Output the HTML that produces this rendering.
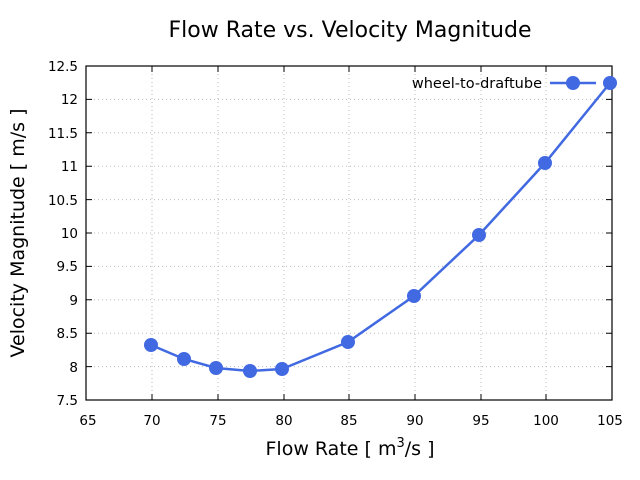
<!DOCTYPE html>
<html><head><style>body{margin:0;background:#fff}svg{display:block}</style></head><body>
<svg width="640" height="480" xmlns="http://www.w3.org/2000/svg" font-family="'DejaVu Sans','Liberation Sans',sans-serif">
<rect width="640" height="480" fill="#fff"/>
<g stroke="#bbb" stroke-width="1" stroke-dasharray="1,3">
<line x1="152" y1="66" x2="152" y2="400"/><line x1="218" y1="66" x2="218" y2="400"/><line x1="284" y1="66" x2="284" y2="400"/><line x1="349" y1="66" x2="349" y2="400"/><line x1="415" y1="66" x2="415" y2="400"/><line x1="481" y1="66" x2="481" y2="400"/><line x1="546" y1="66" x2="546" y2="400"/>
<line x1="86" y1="99.4" x2="612" y2="99.4"/><line x1="86" y1="132.8" x2="612" y2="132.8"/><line x1="86" y1="166.2" x2="612" y2="166.2"/><line x1="86" y1="199.6" x2="612" y2="199.6"/><line x1="86" y1="233" x2="612" y2="233"/><line x1="86" y1="266.4" x2="612" y2="266.4"/><line x1="86" y1="299.8" x2="612" y2="299.8"/><line x1="86" y1="333.2" x2="612" y2="333.2"/><line x1="86" y1="366.6" x2="612" y2="366.6"/>
</g>
<rect x="86" y="66" width="526" height="334" fill="none" stroke="#000" stroke-width="1.2"/>
<g stroke="#000" stroke-width="1">
<path d="M152 400v-6M218 400v-6M284 400v-6M349 400v-6M415 400v-6M481 400v-6M546 400v-6M152 66v6M218 66v6M284 66v6M349 66v6M415 66v6M481 66v6M546 66v6"/>
<path d="M86 99.4h6M86 132.8h6M86 166.2h6M86 199.6h6M86 233h6M86 266.4h6M86 299.8h6M86 333.2h6M86 366.6h6M612 99.4h-6M612 132.8h-6M612 166.2h-6M612 199.6h-6M612 233h-6M612 266.4h-6M612 299.8h-6M612 333.2h-6M612 366.6h-6"/>
</g>
<g font-size="13.5" fill="#000" text-anchor="end">
<text x="78" y="71">12.5</text><text x="78" y="104">12</text><text x="78" y="138">11.5</text><text x="78" y="171">11</text><text x="78" y="205">10.5</text><text x="78" y="238">10</text><text x="78" y="271">9.5</text><text x="78" y="305">9</text><text x="78" y="338">8.5</text><text x="78" y="372">8</text><text x="78" y="405">7.5</text>
</g>
<g font-size="13.5" fill="#000" text-anchor="middle">
<text x="88" y="425">65</text><text x="152" y="425">70</text><text x="218" y="425">75</text><text x="284" y="425">80</text><text x="349" y="425">85</text><text x="415" y="425">90</text><text x="481" y="425">95</text><text x="546" y="425">100</text><text x="610" y="425">105</text>
</g>
<text x="350" y="37" font-size="22" text-anchor="middle">Flow Rate vs. Velocity Magnitude</text>
<text x="350" y="455" font-size="19" text-anchor="middle">Flow Rate [ m<tspan font-size="13" dy="-8">3</tspan><tspan dy="8">/s ]</tspan></text>
<text transform="translate(24,233) rotate(-90)" font-size="19" text-anchor="middle">Velocity Magnitude [ m/s ]</text>
<text x="542" y="88" font-size="14.5" text-anchor="end">wheel-to-draftube</text>
<line x1="550" y1="83" x2="596" y2="83" stroke="#4169e1" stroke-width="2.5"/>
<circle cx="573" cy="83" r="7" fill="#4169e1"/>
<polyline fill="none" stroke="#4169e1" stroke-width="2.5" points="151,345 184,359 216,368 250,371 282,369 348,342 414,296 479,235 545,163 610,83"/>
<g fill="#4169e1">
<circle cx="151" cy="345" r="7"/><circle cx="184" cy="359" r="7"/><circle cx="216" cy="368" r="7"/><circle cx="250" cy="371" r="7"/><circle cx="282" cy="369" r="7"/><circle cx="348" cy="342" r="7"/><circle cx="414" cy="296" r="7"/><circle cx="479" cy="235" r="7"/><circle cx="545" cy="163" r="7"/><circle cx="610" cy="83" r="7"/>
</g>
</svg>
</body></html>
